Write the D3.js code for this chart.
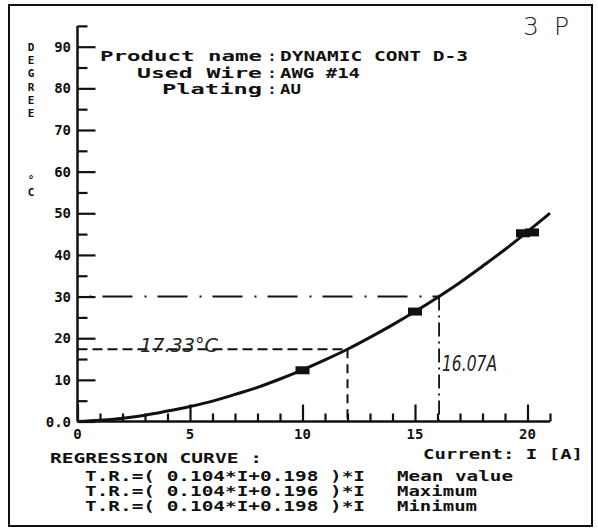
<!DOCTYPE html>
<html><head><meta charset="utf-8">
<script src="https://cdn.jsdelivr.net/npm/d3@7"></script>
<style>
html,body{margin:0;padding:0;background:#fff;}
svg{display:block;}
.mono{font-family:"DejaVu Sans Mono",monospace;font-weight:bold;fill:#111;}
.hand{font-family:"DejaVu Sans",sans-serif;font-style:italic;fill:#222;}
</style></head>
<body>
<svg id="c" width="598" height="529"></svg>
<script>
// ---- data ----
const curveI = [0,1,2,3,4,5,6,7,8,9,10,11,12,13,14,15,16,17,18,19,20,21];
const curveT = [0,0.3,0.8,1.5,2.5,3.6,4.9,6.5,8.2,10.2,12.4,14.8,17.35,20.2,23.2,26.4,29.8,33.4,37.3,41.3,45.6,50.0];
const markI = [10,15,19.8,20.2];
const markT = [12.3,26.4,45.2,45.4];
const xMajor = [0,5,10,15,20];
const xMinor = [1,2,3,4,6,7,8,9,11,12,13,14,16,17,18,19,21];
const xTickLabels = ["0","5","10","15","20"];
const yMajor = [0,10,20,30,40,50,60,70,80,90];
const yMinor = [5,15,25,35,45,55,65,75,85,95];
const yTickLabels = ["0.0","10","20","30","40","50","60","70","80","90"];
const refTemp = 17.33, refTempI = 12;     // dashed guide
const refLimitT = 30, refLimitI = 16.07;  // dash-dot guide
const yTitle = ["D","E","G","R","E","E","","","","","°","C"];
const eqLines = ["T.R.=( 0.104*I+0.198 )*I","T.R.=( 0.104*I+0.196 )*I","T.R.=( 0.104*I+0.198 )*I"];
const eqNames = ["Mean value","Maximum","Minimum"];

const svg = d3.select("#c");
const x = d3.scaleLinear().domain([0,21]).range([77.5,550]);
const y = d3.scaleLinear().domain([0,90]).range([421.5,46.7]);

// frame
svg.append("rect").attr("x",9).attr("y",5).attr("width",583).attr("height",521)
  .attr("fill","none").attr("stroke","#111").attr("stroke-width",2);

// axis lines
svg.append("line").attr("x1",x(0)).attr("x2",x(0)).attr("y1",y(0)).attr("y2",y(95))
  .attr("stroke","#111").attr("stroke-width",2.5);
svg.append("line").attr("x1",x(0)).attr("x2",x(21)).attr("y1",y(0)).attr("y2",y(0))
  .attr("stroke","#111").attr("stroke-width",2.5);

function styleAxis(g){
  g.select(".domain").remove();
  g.selectAll(".tick line").attr("stroke","#111").attr("stroke-width",2.2);
  g.selectAll(".tick text").remove();
}
svg.append("g").attr("transform",`translate(${x(0)},0)`)
  .call(d3.axisRight(y).tickValues(yMajor).tickSize(18).tickSizeOuter(0).tickFormat("")).call(styleAxis);
svg.append("g").attr("transform",`translate(${x(0)},0)`)
  .call(d3.axisRight(y).tickValues(yMinor).tickSize(10).tickSizeOuter(0).tickFormat("")).call(styleAxis);
svg.append("g").attr("transform",`translate(0,${y(0)})`)
  .call(d3.axisTop(x).tickValues(xMajor).tickSize(17).tickSizeOuter(0).tickFormat("")).call(styleAxis);
svg.append("g").attr("transform",`translate(0,${y(0)})`)
  .call(d3.axisTop(x).tickValues(xMinor).tickSize(8).tickSizeOuter(0).tickFormat("")).call(styleAxis);

// tick labels
svg.selectAll(".yl").data(yMajor).enter().append("text").attr("class","mono")
  .attr("x",71).attr("y",d=>y(d)+5).attr("text-anchor","end").attr("font-size",14)
  .text((d,i)=>yTickLabels[i]);
svg.selectAll(".xl").data(xMajor).enter().append("text").attr("class","mono")
  .attr("x",d=>x(d)).attr("y",439).attr("text-anchor","middle").attr("font-size",14)
  .text((d,i)=>xTickLabels[i]);

// y title (vertical stacked letters)
svg.selectAll(".yt").data(yTitle).enter().append("text").attr("class","mono")
  .attr("x",31).attr("y",(d,i)=>51+13.2*i).attr("text-anchor","middle").attr("font-size",11)
  .text(d=>d);

// guide lines
svg.append("line").attr("x1",x(0)).attr("x2",x(refTempI)).attr("y1",y(refTemp)).attr("y2",y(refTemp))
  .attr("stroke","#111").attr("stroke-width",2).attr("stroke-dasharray","10,5");
svg.append("line").attr("x1",x(refTempI)).attr("x2",x(refTempI)).attr("y1",y(refTemp)).attr("y2",y(0))
  .attr("stroke","#111").attr("stroke-width",2).attr("stroke-dasharray","9,6");
svg.append("line").attr("x1",x(0)).attr("x2",x(refLimitI)).attr("y1",y(refLimitT)).attr("y2",y(refLimitT))
  .attr("stroke","#111").attr("stroke-width",2).attr("stroke-dasharray","30,12,2,11").attr("stroke-dashoffset",30);
svg.append("line").attr("x1",x(refLimitI)).attr("x2",x(refLimitI)).attr("y1",y(refLimitT)).attr("y2",y(0))
  .attr("stroke","#111").attr("stroke-width",1.8).attr("stroke-dasharray","14,5,2,5");

// regression curve
const pts = curveI.map((d,i)=>[d,curveT[i]]);
svg.append("path").datum(pts)
  .attr("d",d3.line().x(d=>x(d[0])).y(d=>y(d[1])).curve(d3.curveMonotoneX))
  .attr("fill","none").attr("stroke","#111").attr("stroke-width",3);

// measured markers
svg.selectAll(".mk").data(markI).enter().append("rect")
  .attr("x",d=>x(d)-7).attr("y",(d,i)=>y(markT[i])-4).attr("width",14).attr("height",8)
  .attr("fill","#111");

// header text
const hdr = [
  {l:"Product name", x0:100, y:61},
  {l:"Used Wire", x0:137, y:78},
  {l:"Plating", x0:162, y:94}
];
const hdrVal = ["DYNAMIC CONT D-3","AWG #14","AU"];
const hdrValW = [188,80,21];
hdr.forEach((h,i)=>{
  svg.append("text").attr("class","mono").attr("x",h.x0).attr("y",h.y).attr("font-size",14)
    .attr("textLength",262-h.x0).attr("lengthAdjust","spacingAndGlyphs").text(h.l);
  svg.append("text").attr("class","mono").attr("x",272).attr("y",h.y).attr("font-size",14)
    .attr("text-anchor","middle").text(":");
  svg.append("text").attr("class","mono").attr("x",280).attr("y",h.y).attr("font-size",14)
    .attr("textLength",hdrValW[i]).attr("lengthAdjust","spacingAndGlyphs").text(hdrVal[i]);
});

// bottom text
svg.append("text").attr("class","mono").attr("x",50).attr("y",463).attr("font-size",14)
  .attr("textLength",212).attr("lengthAdjust","spacingAndGlyphs").text("REGRESSION CURVE :");
svg.append("text").attr("class","mono").attr("x",423).attr("y",459).attr("font-size",14)
  .attr("textLength",160).attr("lengthAdjust","spacingAndGlyphs").text("Current: I [A]");
const eqY = [481,496,511];
eqLines.forEach((t,i)=>{
  svg.append("text").attr("class","mono").attr("x",85).attr("y",eqY[i]).attr("font-size",14)
    .attr("textLength",280).attr("lengthAdjust","spacingAndGlyphs").text(t);
  svg.append("text").attr("class","mono").attr("x",397).attr("y",eqY[i]).attr("font-size",14)
    .attr("textLength",i===0?116:80).attr("lengthAdjust","spacingAndGlyphs").text(eqNames[i]);
});

// handwritten notes
svg.append("text").attr("x",523).attr("y",35).attr("font-family","DejaVu Sans").attr("font-weight",300)
  .attr("font-size",25).attr("fill","#222").attr("textLength",46).attr("lengthAdjust","spacing").text("3 P");
svg.append("text").attr("class","hand").attr("x",140).attr("y",352).attr("font-size",19)
  .attr("textLength",78).attr("lengthAdjust","spacingAndGlyphs").text("17.33°C");
svg.append("text").attr("class","hand").attr("x",442).attr("y",371).attr("font-size",21)
  .attr("textLength",55).attr("lengthAdjust","spacingAndGlyphs").text("16.07A");
</script>
</body></html>
